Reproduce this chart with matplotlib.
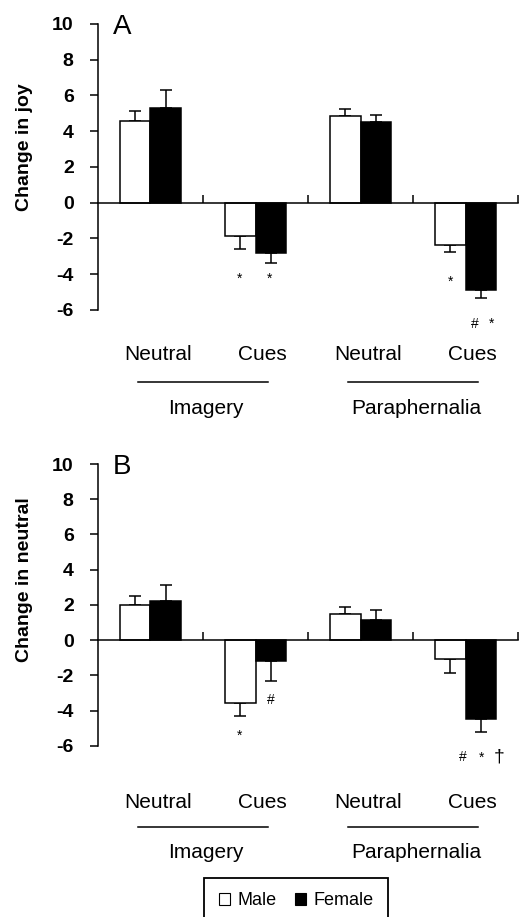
import numpy as np
import matplotlib
matplotlib.use('Agg')
import matplotlib.pyplot as plt
import matplotlib.transforms as mtransforms
from matplotlib.patches import Patch

plt.rcParams['font.family'] = ['Liberation Sans', 'DejaVu Sans']

### Data ###
conditions = ['Neutral', 'Cues', 'Neutral', 'Cues']
groups = ['Imagery', 'Paraphernalia']
sexes = ['Male', 'Female']

joy_male = [4.57, -1.87, 4.83, -2.38]
joy_male_err = [0.56, 0.73, 0.39, 0.39]
joy_female = [5.32, -2.79, 4.53, -4.87]
joy_female_err = [1.01, 0.56, 0.36, 0.45]

neutral_male = [2.00, -3.54, 1.48, -1.04]
neutral_male_err = [0.52, 0.78, 0.41, 0.80]
neutral_female = [2.22, -1.19, 1.14, -4.47]
neutral_female_err = [0.91, 1.12, 0.56, 0.76]

# significance marks: x (data), y (data), symbol
joy_sig_x = [0.852, 1.129, 2.862, 3.09, 3.252]
joy_sig_y = [-4.27, -4.27, -4.44, -6.8, -6.8]
joy_sig_txt = ['*', '*', '*', '#', '*']

neutral_sig_x = [0.852, 1.148, 2.976, 3.157, 3.319]
neutral_sig_y = [-5.4, -3.41, -6.65, -6.65, -6.65]
neutral_sig_txt = ['*', '#', '#', '*', '\u2020']

yticks = [-6, -4, -2, 0, 2, 4, 6, 8, 10]


def one_sided(vals, errs):
    # error bar only on the outward side of the bar
    lo = [e if v < 0 else 0 for v, e in zip(vals, errs)]
    hi = [e if v >= 0 else 0 for v, e in zip(vals, errs)]
    return [lo, hi]


def draw_panel(ax, male, male_err, female, female_err, ylabel, letter,
               sig_x, sig_y, sig_txt, lab_y, line_y, grp_y, ylab_pos, letter_y):
    x = np.arange(len(conditions))
    w = 0.29
    ax.bar(x - w / 2, male, w, color='white', edgecolor='black', linewidth=1.1, zorder=2)
    ax.bar(x + w / 2, female, w, color='black', edgecolor='black', linewidth=1.1, zorder=2)
    ax.errorbar(x - w / 2, male, yerr=one_sided(male, male_err), fmt='none',
                ecolor='black', elinewidth=1.1, capsize=4.3, capthick=1.1, zorder=1)
    ax.errorbar(x + w / 2, female, yerr=one_sided(female, female_err), fmt='none',
                ecolor='black', elinewidth=1.1, capsize=4.3, capthick=1.1, zorder=1)

    ax.set_xlim(-0.5, 3.5)
    ax.set_ylim(-6, 10)
    ax.spines['top'].set_visible(False)
    ax.spines['right'].set_visible(False)
    ax.spines['bottom'].set_position(('data', 0))
    ax.spines['left'].set_linewidth(1.1)
    ax.spines['bottom'].set_linewidth(1.1)
    ax.set_yticks(yticks)
    ax.set_yticklabels([str(t) for t in yticks], fontweight='bold', fontsize=14)
    ax.tick_params(axis='y', direction='out', length=5.5, width=1.1, pad=12)
    ax.set_xticks([0.5, 1.5, 2.5, 3.5])
    ax.set_xticklabels([])
    ax.tick_params(axis='x', direction='in', length=5.5, width=1.1)

    ax.text(-0.174, ylab_pos, ylabel, transform=ax.transAxes, rotation=90,
            ha='center', va='center', fontsize=14, fontweight='bold')
    ax.text(0.057, letter_y, letter, transform=ax.transAxes, ha='center', va='center',
            fontsize=20)

    for sx, sy, st in zip(sig_x, sig_y, sig_txt):
        fs = 14 if st == '\u2020' else 10
        ax.text(sx, sy, st, ha='center', va='center', fontsize=fs, clip_on=False)

    trans = mtransforms.blended_transform_factory(ax.transData, ax.transAxes)
    for i, c in enumerate(conditions):
        ax.text(i + 0.07, lab_y, c, transform=trans, ha='center', va='center', fontsize=15)
    for g, gname in enumerate(groups):
        cx = 2 * g + 0.5
        ax.plot([cx - 0.62, cx + 0.62], [line_y, line_y], transform=trans,
                color='black', linewidth=1.1, clip_on=False)
        ax.text(cx + 0.03, grp_y, gname, transform=trans, ha='center', va='center',
                fontsize=15)


fig = plt.figure(figsize=(5.2, 9.17), dpi=100)
axA = fig.add_axes([0.18846, 0.6620, 0.8077, 0.3119])
axB = fig.add_axes([0.18846, 0.1865, 0.8077, 0.3075])

draw_panel(axA, joy_male, joy_male_err, joy_female, joy_female_err,
           'Change in joy', 'A', joy_sig_x, joy_sig_y, joy_sig_txt,
           -0.157, -0.252, -0.343, 0.57, 0.988)
draw_panel(axB, neutral_male, neutral_male_err, neutral_female, neutral_female_err,
           'Change in neutral', 'B', neutral_sig_x, neutral_sig_y, neutral_sig_txt,
           -0.199, -0.287, -0.379, 0.59, 0.99)

handles = [Patch(facecolor='white', edgecolor='black', linewidth=0.8),
           Patch(facecolor='black', edgecolor='black', linewidth=0.8)]
leg = fig.legend(handles, sexes, loc='upper center', bbox_to_anchor=(0.570, 0.0425),
                 ncol=2, fontsize=13, frameon=True, fancybox=False, framealpha=1,
                 edgecolor='black', borderaxespad=0, handlelength=0.6, handleheight=0.6,
                 handletextpad=0.45, columnspacing=1.0, borderpad=0.8)
leg.get_frame().set_linewidth(1.3)

fig.savefig('out.png', dpi=100)
